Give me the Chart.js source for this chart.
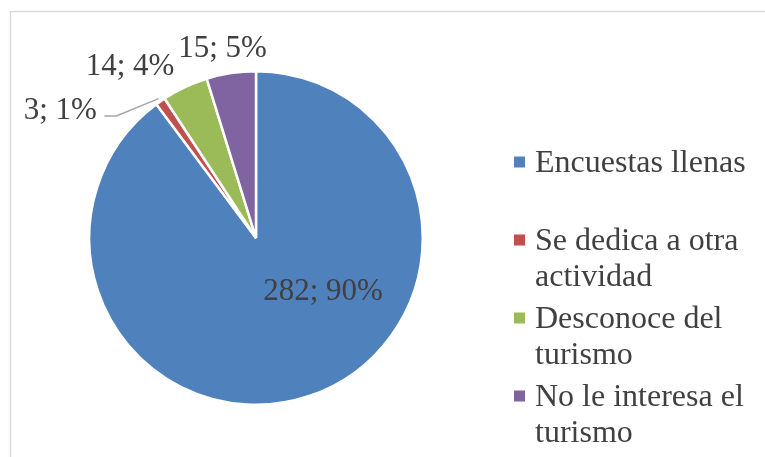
<!DOCTYPE html>
<html>
<head>
<meta charset="utf-8">
<script src="https://cdn.jsdelivr.net/npm/chart.js@4"></script>
<style>
  body { margin: 0; background: #fff; }
  #wrap { position: relative; width: 765px; height: 457px; }
</style>
</head>
<body>
<div id="wrap"><canvas id="myChart"></canvas></div>
<script>
const categories = [
  "Encuestas llenas",
  "Se dedica a otra actividad",
  "Desconoce del turismo",
  "No le interesa el turismo",
];
const counts = [282, 3, 14, 15];
const colors = ["#4F81BD", "#C0504D", "#9BBB59", "#8064A2"];

const LABEL_FONT = "31px 'Liberation Serif', 'Times New Roman', serif";
const LEGEND_FONT = "32px 'Liberation Serif', 'Times New Roman', serif";
const TEXT_COLOR = "#404040";

// where each value label sits: radius factor and angle shift (deg) from the slice middle
const labelPlace = [
  { k: 0.508, da: -33.9 },
  { k: 1.405, da: -21.7, leader: { k: 1.112, da: -13.9 } },
  { k: 1.282, da: -10.9 },
  { k: 1.161, da: -1.35 },
];

function wrapText(ctx, text, maxWidth) {
  const words = text.split(" ");
  const lines = [];
  let line = "";
  words.forEach((w) => {
    const test = line ? line + " " + w : w;
    if (ctx.measureText(test).width > maxWidth && line) {
      lines.push(line);
      line = w;
    } else {
      line = test;
    }
  });
  if (line) lines.push(line);
  return lines;
}

// light frame along the top and left edge
const framePlugin = {
  id: "frame",
  beforeDraw(chart) {
    const ctx = chart.ctx;
    ctx.save();
    ctx.strokeStyle = "#D9D9D9";
    ctx.lineWidth = 1.5;
    ctx.beginPath();
    ctx.moveTo(10.5, chart.height);
    ctx.lineTo(10.5, 11.5);
    ctx.lineTo(chart.width, 11.5);
    ctx.stroke();
    ctx.restore();
  },
};

const valueLabels = {
  id: "valueLabels",
  afterDatasetsDraw(chart) {
    const ctx = chart.ctx;
    const data = chart.data.datasets[0].data;
    const total = data.reduce((s, v) => s + v, 0);
    const arcs = chart.getDatasetMeta(0).data;
    ctx.save();
    ctx.font = LABEL_FONT;
    ctx.fillStyle = TEXT_COLOR;
    ctx.textBaseline = "alphabetic";
    ctx.textAlign = "left";
    arcs.forEach((arc, i) => {
      const { x, y, startAngle, endAngle, outerRadius } = arc.getProps(
        ["x", "y", "startAngle", "endAngle", "outerRadius"], true);
      const mid = (startAngle + endAngle) / 2;
      const p = labelPlace[i];
      const at = (k, da) => {
        const a = mid + (da * Math.PI) / 180;
        return [x + Math.cos(a) * outerRadius * k, y + Math.sin(a) * outerRadius * k];
      };
      const text = data[i] + "; " + Math.round((data[i] / total) * 100) + "%";
      const [tx, ty] = at(p.k, p.da);
      const w = ctx.measureText(text).width;
      if (p.leader) {
        const start = at(1.02, 0);
        const elbow = at(p.leader.k, p.leader.da);
        ctx.strokeStyle = "#A6A6A6";
        ctx.lineWidth = 1.5;
        ctx.beginPath();
        ctx.moveTo(start[0], start[1]);
        ctx.lineTo(elbow[0], elbow[1]);
        ctx.lineTo(elbow[0] - 12, elbow[1]);
        ctx.stroke();
      }
      ctx.fillText(text, tx - w / 2, ty + 10);
    });
    ctx.restore();
  },
};

const sideLegend = {
  id: "sideLegend",
  afterDraw(chart) {
    const ctx = chart.ctx;
    ctx.save();
    ctx.font = LEGEND_FONT;
    ctx.textBaseline = "alphabetic";
    ctx.textAlign = "left";
    const lineH = 36;
    const itemH = 78;
    chart.data.labels.forEach((label, i) => {
      const cy = 162 + i * itemH;
      ctx.fillStyle = colors[i];
      ctx.fillRect(514, cy - 5.5, 11, 11);
      ctx.fillStyle = TEXT_COLOR;
      wrapText(ctx, label, 228).forEach((ln, j) => {
        ctx.fillText(ln, 535, cy + 10 + j * lineH);
      });
    });
    ctx.restore();
  },
};

new Chart(document.getElementById("myChart"), {
  type: "pie",
  data: {
    labels: categories,
    datasets: [
      {
        data: counts,
        backgroundColor: colors,
        borderColor: "#ffffff",
        borderWidth: 2.5,
      },
    ],
  },
  options: {
    responsive: true,
    maintainAspectRatio: false,
    animation: false,
    layout: { padding: { left: 88, right: 341, top: 70, bottom: 51 } },
    plugins: {
      legend: { display: false },
      tooltip: { enabled: false },
    },
  },
  plugins: [framePlugin, valueLabels, sideLegend],
});
</script>
</body>
</html>
